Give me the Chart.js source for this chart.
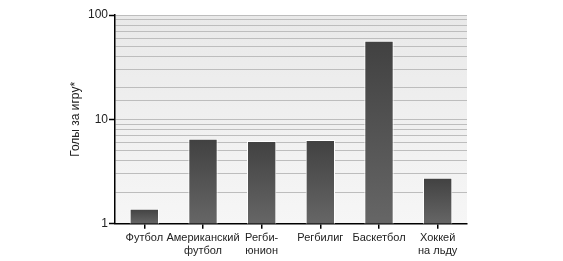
<!DOCTYPE html>
<html>
<head>
<meta charset="utf-8">
<script src="https://cdn.jsdelivr.net/npm/chart.js@4.4.1/dist/chart.umd.min.js"></script>
<style>
  html, body { margin: 0; padding: 0; background: #ffffff; }
  #wrap { width: 563px; height: 261px; }
</style>
</head>
<body>
<div id="wrap"><canvas id="c" width="563" height="261"></canvas></div>
<script>
const categories = ['Футбол', ['Американский', 'футбол'], ['Регби-', 'юнион'], 'Регбилиг', 'Баскетбол', ['Хоккей', 'на льду']];
const goalsPerGame = [1.39, 6.5, 6.2, 6.35, 56.5, 2.75];
const yTickLabels = [1, 10, 100];
const yTitle = 'Голы за игру*';

const plotBg = {
  id: 'plotBg',
  beforeDraw(chart) {
    const a = chart.chartArea, ctx = chart.ctx;
    const g = ctx.createLinearGradient(0, a.top, 0, a.bottom);
    g.addColorStop(0, '#e9e9e9');
    g.addColorStop(1, '#f6f6f6');
    ctx.save();
    ctx.fillStyle = g;
    ctx.fillRect(a.left, a.top, a.right - a.left, a.bottom - a.top);
    ctx.restore();
  }
};

function barFill(context) {
  const chart = context.chart;
  const ys = chart.scales.y;
  if (!ys || !chart.chartArea) return '#505050';
  const v = context.raw;
  const top = ys.getPixelForValue(v);
  const bottom = ys.bottom;
  const g = chart.ctx.createLinearGradient(0, top, 0, bottom);
  g.addColorStop(0, '#414141');
  g.addColorStop(1, '#666666');
  return g;
}

new Chart(document.getElementById('c'), {
  type: 'bar',
  data: {
    labels: categories,
    datasets: [{
      data: goalsPerGame,
      backgroundColor: barFill,
      borderColor: '#ffffff',
      borderWidth: 1,
      categoryPercentage: 1,
      barPercentage: 0.5
    }]
  },
  options: {
    responsive: false,
    animation: false,
    devicePixelRatio: 1,
    layout: { padding: { left: 0, right: 96, top: 15, bottom: 1 } },
    plugins: { legend: { display: false }, tooltip: { enabled: false } },
    scales: {
      x: {
        offset: true,
        grid: { display: true, offset: false, drawOnChartArea: false, drawTicks: true, tickLength: 5, color: '#000', tickColor: '#000', tickWidth: 1.5, lineWidth: 1.5 },
        border: { display: true, color: '#000', width: 1.5 },
        ticks: { color: '#222', font: { family: 'Liberation Sans, Arial, sans-serif', size: 11, lineHeight: 1.15 }, padding: 3, maxRotation: 0, autoSkip: false }
      },
      y: {
        type: 'logarithmic',
        min: 1,
        max: 100,
        grid: {
          color: (c) => (c.tick && c.tick.value === 1) ? 'rgba(0,0,0,0)' : '#bdbdbd',
          lineWidth: 1,
          drawTicks: true,
          tickLength: 6,
          tickColor: (c) => (c.tick && yTickLabels.includes(c.tick.value)) ? '#000' : 'rgba(0,0,0,0)',
          tickWidth: 1.5
        },
        border: { display: true, color: '#000', width: 1.5 },
        ticks: {
          color: '#222',
          font: { family: 'Liberation Sans, Arial, sans-serif', size: 12 },
          padding: 1,
          autoSkip: false,
          callback: (v) => yTickLabels.includes(v) ? String(v) : ''
        },
        title: {
          display: true,
          text: yTitle,
          color: '#222',
          font: { family: 'Liberation Sans, Arial, sans-serif', size: 12 },
          padding: { top: 68, bottom: 0 }
        },
        afterFit(s) { s.width = 115; }
      }
    }
  },
  plugins: [plotBg]
});
</script>
</body>
</html>
